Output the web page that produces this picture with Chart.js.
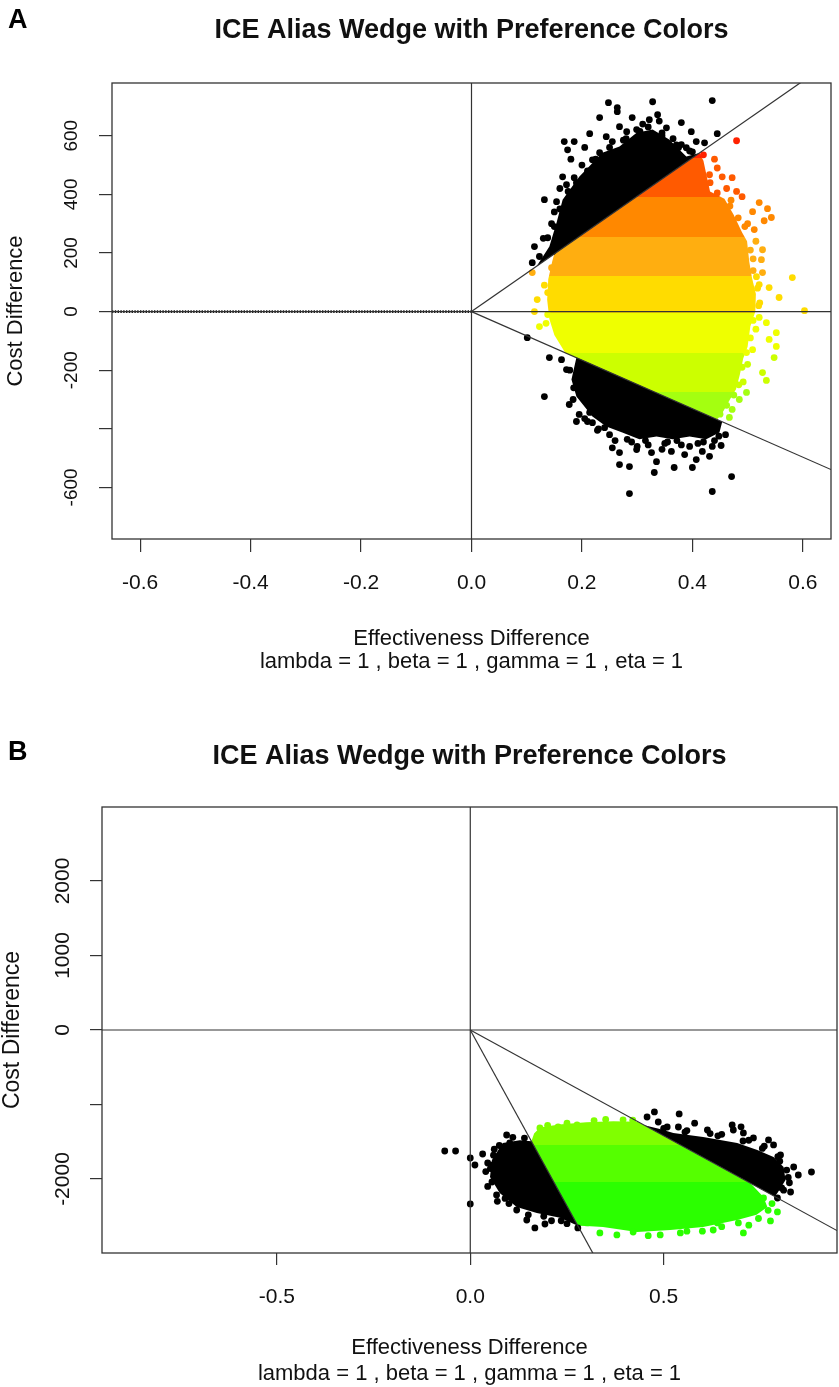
<!DOCTYPE html>
<html>
<head>
<meta charset="utf-8">
<title>ICE Alias Wedge with Preference Colors</title>
<script src="https://cdn.jsdelivr.net/npm/chart.js@4.4.1/dist/chart.umd.min.js"></script>
<style>
  body { margin: 0; background: #fff; }
  #page { position: relative; width: 839px; height: 1387px; overflow: hidden; }
  canvas { position: absolute; left: 0; }
  .letter { position: absolute; font-family: "Liberation Sans", Arial, sans-serif; font-weight: bold; font-size: 27px; line-height: 1; color: #000; }
</style>
</head>
<body>
<div id="page">
  <canvas id="chartA" width="839" height="700" style="top:0px"></canvas>
  <canvas id="chartB" width="839" height="687" style="top:700px"></canvas>
  <div class="letter" style="left:8px;top:6px">A</div>
  <div class="letter" style="left:8px;top:738px">B</div>
</div>
<script>
var fontFamily = '"Liberation Sans", Arial, Helvetica, sans-serif';

// ---------------- panel A ----------------
var xTicksA = [-0.6, -0.4, -0.2, 0, 0.2, 0.4, 0.6];
var yTicksA = [-600, -400, -200, 0, 200, 400, 600];
var yBlankA = [-400];               // R drops this label (overlap)
var xLimA = [-0.651, 0.651];
var yLimA = [-776, 780];
var wedgeSlopesA = [1311, -828];
var bandEdgesA = [525, 390, 255, 120, -5, -140, -275];
var bandColorsA = ['#ff2200', '#ff5a00', '#ff8800', '#ffae10', '#ffdc00', '#efff00', '#ccff00', '#a4ff10'];

// dense parts of the cloud (outlines)
var denseTopAx = [0.118, 0.141, 0.154, 0.165, 0.195, 0.237, 0.268, 0.299, 0.328, 0.358, 0.389, 0.413];
var denseTopAy = [155, 222, 303, 382, 460, 542, 563, 610, 621, 587, 529, 541];
var denseLowAx = [0.190, 0.181, 0.190, 0.219, 0.244, 0.273, 0.304, 0.335, 0.364, 0.395, 0.425, 0.449, 0.454];
var denseLowAy = [-157, -232, -290, -358, -392, -413, -436, -426, -436, -426, -436, -413, -376];
var denseColAx = [0.150, 0.413, 0.420, 0.425, 0.432, 0.458, 0.475, 0.490, 0.499, 0.503, 0.508, 0.515, 0.514, 0.505, 0.500, 0.492, 0.486, 0.479, 0.468, 0.456, 0.445, 0.170, 0.150, 0.141, 0.137, 0.139, 0.146];
var denseColAy = [197, 541, 515, 470, 410, 385, 330, 270, 240, 170, 115, 60, 0, -50, -120, -160, -215, -265, -300, -340, -368, -141, -80, -25, 40, 110, 170];

// loose points around the edges
var blackDotsAx = [0.248, 0.264, 0.264, 0.328, 0.436, 0.337, 0.232, 0.291, 0.322, 0.380, 0.398, 0.445, 0.268, 0.214, 0.244, 0.168, 0.186, 0.174, 0.281, 0.299, 0.353, 0.407, 0.422, 0.389, 0.371, 0.132, 0.154, 0.114, 0.123, 0.110, 0.138, 0.147, 0.165, 0.186, 0.172, 0.219, 0.232, 0.200, 0.150, 0.145, 0.130, 0.255, 0.310, 0.345, 0.375, 0.395, 0.180, 0.205, 0.160, 0.280, 0.340, 0.310,
  0.150, 0.160, 0.175, 0.190, 0.210, 0.225, 0.250, 0.275, 0.305, 0.320, 0.345, 0.365, 0.380, 0.400,
  0.141, 0.163, 0.101, 0.132, 0.177, 0.172, 0.201, 0.195, 0.190, 0.210, 0.219, 0.241, 0.214, 0.268, 0.282, 0.299, 0.268, 0.286, 0.331, 0.335, 0.367, 0.400, 0.407, 0.386, 0.418, 0.431, 0.436, 0.452, 0.471, 0.436, 0.286, 0.326, 0.362, 0.185, 0.230, 0.260, 0.320, 0.350, 0.380, 0.410, 0.440, 0.300, 0.250, 0.460, 0.255, 0.345, 0.395,
  0.178, 0.184, 0.205, 0.228, 0.290, 0.315, 0.355, 0.372, 0.420, 0.448];
var blackDotsAy = [713, 696, 682, 716, 720, 672, 662, 662, 655, 645, 614, 607, 631, 607, 597, 580, 580, 552, 614, 621, 627, 580, 576, 559, 569, 382, 375, 222, 188, 167, 252, 205, 460, 457, 433, 518, 542, 500, 340, 300, 250, 580, 640, 600, 560, 548, 520, 560, 420, 590, 650, 600,
  290, 350, 410, 440, 480, 520, 560, 585, 615, 630, 610, 590, 570, 545,
  -157, -164, -89, -290, -317, -198, -290, -351, -375, -375, -379, -396, -344, -481, -436, -471, -522, -529, -549, -512, -532, -532, -505, -488, -477, -494, -460, -457, -563, -614, -621, -481, -477, -260, -400, -440, -455, -450, -455, -450, -440, -460, -420, -420, -465, -470, -460,
  -200, -300, -365, -405, -445, -440, -445, -440, -445, -425];
var colorDotsAx = [0.431, 0.454, 0.472, 0.490, 0.521, 0.536, 0.543, 0.530, 0.509, 0.512, 0.527, 0.525, 0.527, 0.516, 0.521, 0.539, 0.557, 0.581, 0.603, 0.521, 0.534, 0.552, 0.539, 0.552, 0.548, 0.527, 0.534, 0.509, 0.498, 0.485, 0.472, 0.467, 0.480, 0.420, 0.110, 0.119, 0.138, 0.154, 0.114, 0.123, 0.138, 0.159, 0.154, 0.515, 0.510, 0.522, 0.515, 0.500, 0.492, 0.462, 0.445, 0.440, 0.470, 0.500, 0.480,
  0.432, 0.445, 0.468, 0.483, 0.495, 0.505, 0.510, 0.518, 0.520, 0.510, 0.505, 0.498, 0.490, 0.484, 0.475, 0.462, 0.450, 0.132, 0.135, 0.145];
var colorDotsAy = [467, 460, 457, 392, 372, 351, 321, 310, 341, 280, 211, 177, 133, 119, 92, 82, 48, 116, 3, -20, -38, -72, -95, -119, -157, -208, -235, -130, -276, -300, -334, -361, 583, 535, 133, 41, 65, 167, 0, -51, -10, -72, -27, 240, 180, 30, -60, -180, -240, 420, 490, 520, 380, 300, 410,
  440, 405, 360, 320, 290, 210, 140, 80, 20, -30, -90, -140, -190, -250, -285, -320, -350, 90, -40, 150];

// ---------------- panel B ----------------
var xTicksB = [-0.5, 0, 0.5];
var yTicksB = [-2000, -1000, 0, 1000, 2000];
var yBlankB = [-1000];
var xLimB = [-0.952, 0.948];
var yLimB = [-2993, 2993];
var wedgeSlopesB = [-9450, -2840];
var bandEdgesB = [-1544, -2040];
var bandColorsB = ['#80ff00', '#55ff00', '#2bff00'];

var denseLeftBx = [0.158, 0.128, 0.084, 0.056, 0.051, 0.076, 0.120, 0.172, 0.232, 0.278];
var denseLeftBy = [-1493, -1480, -1516, -1745, -1973, -2188, -2375, -2456, -2520, -2627];
var denseRightBx = [0.450, 0.490, 0.525, 0.602, 0.690, 0.742, 0.784, 0.810, 0.815, 0.794, 0.787];
var denseRightBy = [-1278, -1330, -1382, -1436, -1516, -1610, -1704, -1839, -2013, -2188, -2235];
var denseColBx = [0.158, 0.165, 0.180, 0.230, 0.300, 0.370, 0.433, 0.725, 0.758, 0.768, 0.740, 0.690, 0.602, 0.517, 0.431, 0.343, 0.300, 0.278];
var denseColBy = [-1493, -1390, -1310, -1268, -1238, -1225, -1230, -2059, -2241, -2375, -2480, -2550, -2644, -2684, -2711, -2644, -2630, -2627];

var blackDotsBx = [-0.066, -0.038, 0, 0.012, 0.032, 0, 0.058, 0.068, 0.120, 0.146, 0.167, 0.193, 0.094, 0.102, 0.128, 0.278, 0.068, 0.056, 0.084, 0.045, 0.110, 0.140, 0.040, 0.070, 0.100, 0.210, 0.250, 0.062, 0.045,
  0.075, 0.060, 0.052, 0.090, 0.150, 0.190, 0.235,
  0.457, 0.476, 0.486, 0.509, 0.540, 0.538, 0.613, 0.677, 0.680, 0.706, 0.771, 0.802, 0.836, 0.848, 0.882, 0.828, 0.794, 0.784, 0.732, 0.560, 0.650, 0.720, 0.760, 0.800, 0.825, 0.810, 0.620, 0.580, 0.700,
  0.500, 0.555, 0.640, 0.705, 0.755, 0.795, 0.818, 0.822, 0.805];
var blackDotsBy = [-1624, -1624, -1718, -1812, -1664, -2335, -1812, -2214, -2416, -2550, -2657, -2604, -1409, -1516, -1570, -2657, -1879, -2040, -2147, -1785, -1440, -1450, -1900, -2300, -2330, -2560, -2600, -1600, -2100,
  -1550, -1680, -1860, -2260, -2480, -2500, -2560,
  -1168, -1100, -1235, -1302, -1127, -1302, -1342, -1275, -1342, -1382, -1476, -1678, -1839, -1946, -1906, -2174, -2255, -1543, -1449, -1350, -1400, -1480, -1560, -1760, -2050, -2150, -1390, -1250, -1300,
  -1320, -1370, -1420, -1490, -1590, -1700, -1880, -1980, -2120];
var colorDotsBx = [0.180, 0.227, 0.276, 0.794, 0.776, 0.706, 0.693, 0.639, 0.628, 0.543, 0.491, 0.421, 0.379, 0.335, 0.302, 0.758, 0.200, 0.350, 0.420, 0.460, 0.600, 0.720, 0.780,
  0.250, 0.320, 0.395, 0.560, 0.650, 0.745, 0.770];
var colorDotsBy = [-1315, -1302, -1275, -2442, -2563, -2724, -2590, -2590, -2684, -2724, -2751, -2711, -2751, -2724, -2590, -2255, -1280, -1200, -1210, -2760, -2700, -2620, -2330,
  -1250, -1215, -1205, -2700, -2640, -2530, -2420];

var titleText = 'ICE Alias Wedge with Preference Colors';
var xTitleText = 'Effectiveness Difference';
var subText = 'lambda = 1 , beta = 1 , gamma = 1 , eta = 1';
var yTitleText = 'Cost Difference';

// ---------------- helpers ----------------
function pts(xs, ys) {
  return xs.map(function (x, i) { return { x: x, y: ys[i] }; });
}

function closed(xs, ys) {
  var p = pts(xs, ys);
  p.push({ x: xs[0], y: ys[0] });
  return p;
}

function bandColour(edges, colours, v) {
  for (var i = 0; i < edges.length; i++) {
    if (v >= edges[i]) return colours[i];
  }
  return colours[edges.length];
}

// hard-stop vertical gradient, stops placed with the y scale
function bandFill(edges, colours) {
  return function (context) {
    var chart = context.chart;
    var area = chart.chartArea;
    if (!area) return colours[0];
    var ys = chart.scales.y;
    var g = chart.ctx.createLinearGradient(0, area.top, 0, area.bottom);
    g.addColorStop(0, colours[0]);
    edges.forEach(function (e, i) {
      var t = (ys.getPixelForValue(e) - area.top) / (area.bottom - area.top);
      t = Math.min(1, Math.max(0, t));
      g.addColorStop(t, colours[i]);
      g.addColorStop(t, colours[i + 1]);
    });
    g.addColorStop(1, colours[colours.length - 1]);
    return g;
  };
}

function lineSet(data, extra) {
  return Object.assign({
    type: 'line', data: data, borderColor: '#333', borderWidth: 1.2,
    pointRadius: 0, fill: false, tension: 0, order: 0
  }, extra || {});
}

function areaSet(data, colour) {
  return {
    type: 'line', data: data, fill: 'shape', backgroundColor: colour,
    borderColor: 'rgba(0,0,0,0)', borderWidth: 1, pointRadius: 0, tension: 0, order: 2
  };
}

function dotSet(data, colours) {
  return {
    type: 'scatter', data: data, pointRadius: 3.4, pointBorderWidth: 0,
    pointBackgroundColor: colours, order: 1
  };
}

// R style frame + titles
var rFrame = {
  id: 'rFrame',
  afterDraw: function (chart, args, o) {
    var ctx = chart.ctx, a = chart.chartArea;
    var cx = (a.left + a.right) / 2;
    ctx.save();
    ctx.strokeStyle = '#333';
    ctx.lineWidth = 1.3;
    ctx.strokeRect(a.left, a.top, a.right - a.left, a.bottom - a.top);
    ctx.fillStyle = '#111';
    ctx.textAlign = 'center';
    ctx.textBaseline = 'middle';
    ctx.font = 'bold ' + o.titleSize + 'px ' + fontFamily;
    ctx.fillText(titleText, cx, o.titleY);
    ctx.font = o.labSize + 'px ' + fontFamily;
    ctx.fillText(xTitleText, cx, a.bottom + o.xTitleGap);
    ctx.fillText(subText, cx, a.bottom + o.subGap);
    ctx.translate(o.yTitleX, (a.top + a.bottom) / 2);
    ctx.rotate(-Math.PI / 2);
    ctx.font = o.yLabSize + 'px ' + fontFamily;
    ctx.fillText(yTitleText, 0, 0);
    ctx.restore();
  }
};

function wedgeChart(id, d, lay) {
  var xMin = d.xLim[0], xMax = d.xLim[1];
  var sets = [];
  sets.push(lineSet([{ x: xMin, y: 0 }, { x: xMax, y: 0 }]));
  sets.push(lineSet([{ x: 0, y: d.yLim[0] }, { x: 0, y: d.yLim[1] }]));
  d.slopes.forEach(function (s) {
    sets.push(lineSet([{ x: 0, y: 0 }, { x: xMax, y: s * xMax }]));
  });
  if (d.dottedLeft) {
    sets.push(lineSet([{ x: xMin, y: 0 }, { x: 0, y: 0 }],
      { borderDash: [1.4, 1.4], borderWidth: 2.6, borderColor: '#111' }));
  }
  sets.push(dotSet(pts(d.blackX, d.blackY), '#000'));
  sets.push(dotSet(pts(d.colX, d.colY), d.colY.map(function (v) {
    return bandColour(d.edges, d.colours, v);
  })));
  d.blackAreas.forEach(function (a) { sets.push(areaSet(a, '#000')); });
  sets.push(areaSet(d.colArea, bandFill(d.edges, d.colours)));

  var tickFont = function (size) { return { family: fontFamily, size: size }; };

  return new Chart(document.getElementById(id), {
    type: 'scatter',
    data: { datasets: sets },
    plugins: [rFrame],
    options: {
      responsive: false,
      animation: false,
      events: [],
      layout: { autoPadding: false, padding: lay.padding },
      plugins: {
        legend: { display: false },
        tooltip: { enabled: false },
        title: { display: false },
        rFrame: lay.text
      },
      scales: {
        x: {
          type: 'linear', min: xMin, max: xMax,
          afterBuildTicks: function (s) { s.ticks = d.xTicks.map(function (v) { return { value: v }; }); },
          afterFit: function (s) { s.height = lay.xAxisHeight; },
          ticks: {
            autoSkip: false, minRotation: 0, maxRotation: 0, padding: lay.xTickPad,
            color: '#111', font: tickFont(lay.xTickSize),
            callback: function (v) { return v.toFixed(1); }
          },
          grid: { display: true, drawOnChartArea: false, drawTicks: true, tickLength: lay.tickLength, color: '#333', lineWidth: 1.2 },
          border: { display: false }
        },
        y: {
          type: 'linear', min: d.yLim[0], max: d.yLim[1],
          afterBuildTicks: function (s) { s.ticks = d.yTicks.map(function (v) { return { value: v }; }); },
          afterFit: function (s) { s.width = lay.yAxisWidth; },
          ticks: {
            autoSkip: false, minRotation: 90, maxRotation: 90, crossAlign: 'center', padding: lay.yTickPad,
            color: '#111', font: tickFont(lay.yTickSize),
            callback: function (v) { return d.yBlank.indexOf(v) >= 0 ? '' : String(v); }
          },
          grid: { display: true, drawOnChartArea: false, drawTicks: true, tickLength: lay.tickLength, color: '#333', lineWidth: 1.2 },
          border: { display: false }
        }
      }
    }
  });
}

wedgeChart('chartA', {
  xLim: xLimA, yLim: yLimA, xTicks: xTicksA, yTicks: yTicksA, yBlank: yBlankA,
  slopes: wedgeSlopesA, edges: bandEdgesA, colours: bandColorsA, dottedLeft: true,
  blackX: blackDotsAx, blackY: blackDotsAy, colX: colorDotsAx, colY: colorDotsAy,
  blackAreas: [closed(denseTopAx, denseTopAy), closed(denseLowAx, denseLowAy)],
  colArea: closed(denseColAx, denseColAy)
}, {
  padding: { left: 0, right: 8, top: 83, bottom: 101 },
  xAxisHeight: 60, yAxisWidth: 112, tickLength: 13,
  xTickSize: 21, yTickSize: 19, xTickPad: 19, yTickPad: 8,
  text: { titleSize: 27, titleY: 31, labSize: 22, xTitleGap: 100, subGap: 123, yLabSize: 22, yTitleX: 16 }
});

wedgeChart('chartB', {
  xLim: xLimB, yLim: yLimB, xTicks: xTicksB, yTicks: yTicksB, yBlank: yBlankB,
  slopes: wedgeSlopesB, edges: bandEdgesB, colours: bandColorsB, dottedLeft: false,
  blackX: blackDotsBx, blackY: blackDotsBy, colX: colorDotsBx, colY: colorDotsBy,
  blackAreas: [closed(denseLeftBx, denseLeftBy), closed(denseRightBx, denseRightBy)],
  colArea: closed(denseColBx, denseColBy)
}, {
  padding: { left: 0, right: 2, top: 107, bottom: 74 },
  xAxisHeight: 60, yAxisWidth: 102, tickLength: 12,
  xTickSize: 21, yTickSize: 21, xTickPad: 20, yTickPad: 0,
  text: { titleSize: 27, titleY: 57, labSize: 22, xTitleGap: 95, subGap: 121, yLabSize: 23, yTitleX: 13 }
});
</script>
</body>
</html>
